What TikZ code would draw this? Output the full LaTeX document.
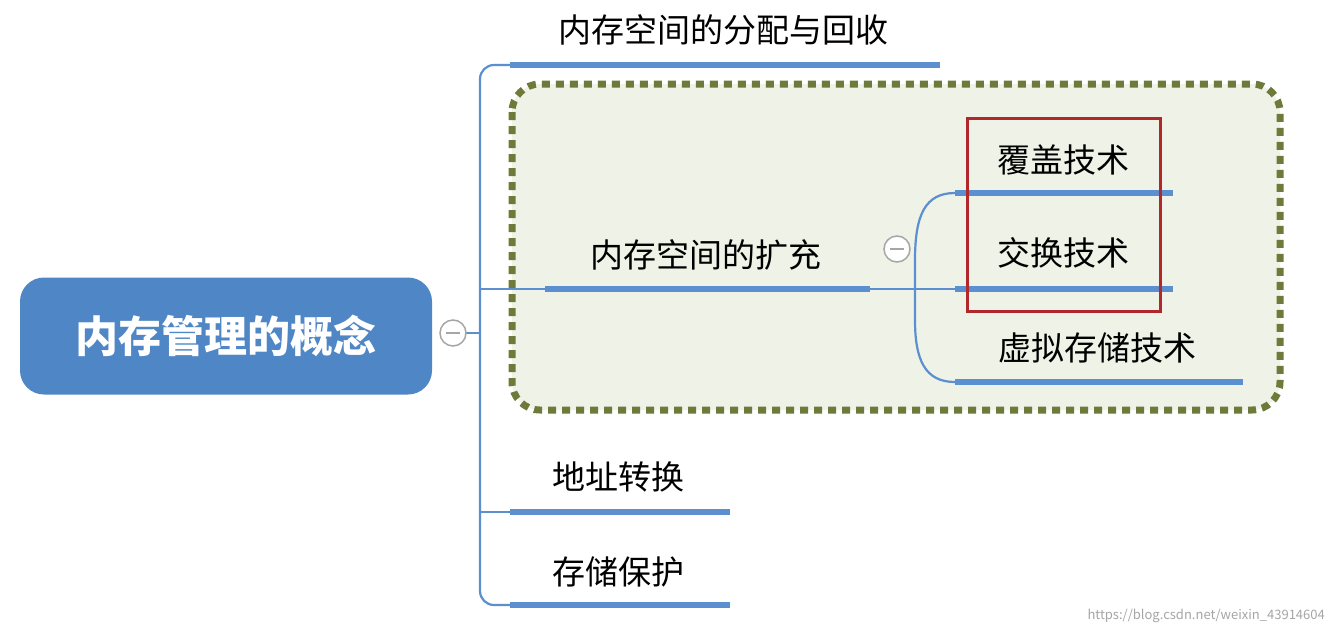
\documentclass[tikz,border=0pt]{standalone}
\usepackage{fontspec}
\setmainfont{Noto Sans CJK SC}
\definecolor{mblue}{HTML}{4F86C6}
\definecolor{lblue}{HTML}{5B8FD0}
\definecolor{olive}{HTML}{6E7A3A}
\definecolor{lgreen}{HTML}{EFF2E6}
\definecolor{dred}{HTML}{B0282C}
\begin{document}
\begin{tikzpicture}[x=1pt,y=-1pt,
  ul/.style={draw=lblue,line width=6pt},
  br/.style={draw=lblue,line width=2.2pt,rounded corners=14pt},
  lab/.style={font=\fontsize{33}{33}\selectfont,text=black,inner sep=0pt},
  col/.style={circle,draw=gray!70,line width=1.5pt,fill=white,minimum size=26pt,inner sep=0pt}]
\useasboundingbox (0,0) rectangle (1332,635);
\fill[white] (0,0) rectangle (1332,635);
% green region
\draw[olive,fill=lgreen,line width=7pt,dash pattern=on 8pt off 6pt,rounded corners=28pt] (512,84) rectangle (1280,410);
% root
\node[draw=none,fill=mblue,rounded corners=24pt,minimum width=412pt,minimum height=117pt,text=white,font=\bfseries\fontsize{43}{43}\selectfont] (root) at (226,336) {内存管理的概念};
% brackets level 1
\coordinate (c1) at (466,333);
\draw[br] (510,65) -- (480,65) -- (480,605) -- (510,605);
\draw[br] (480,289) -- (545,289);
\draw[br] (480,512) -- (510,512);
\draw[lblue,line width=2.2pt] (c1) -- (480,333);
\node[col] (m1) at (453,333) {};
\draw[gray!70,line width=1.8pt] (446,333) -- (460,333);
% level 1 underlines
\draw[ul] (510,65) coordinate (a1) -- (940,65) coordinate (a2);
\draw[ul] (545,289) coordinate (b1) -- (870,289) coordinate (b2);
\draw[ul] (510,512) coordinate (d1) -- (730,512) coordinate (d2);
\draw[ul] (510,605) coordinate (e1) -- (730,605) coordinate (e2);
\node[lab] (t1) at (723,30) {内存空间的分配与回收};
\node[lab] (t2) at (706,255) {内存空间的扩充};
\node[lab] (t3) at (618,477) {地址转换};
\node[lab] (t4) at (618,572) {存储保护};
% level 2
\draw[lblue,line width=2.2pt] (870,289) -- (955,289);
\draw[lblue,line width=2.2pt] (955,193) .. controls (925,193) and (915,215) .. (915,260) -- (915,320) .. controls (915,360) and (925,382) .. (955,382);
\node[col] (m2) at (897,249) {};
\draw[gray!70,line width=1.8pt] (890,249) -- (904,249);
\draw[ul] (955,193) coordinate (f1) -- (1173,193) coordinate (f2);
\draw[ul] (955,289) coordinate (g1) -- (1173,289) coordinate (g2);
\draw[ul] (955,382) coordinate (h1) -- (1243,382) coordinate (h2);
\node[lab] (t5) at (1063,160) {覆盖技术};
\node[lab] (t6) at (1063,253) {交换技术};
\node[lab] (t7) at (1097,348) {虚拟存储技术};
% red box
\draw[dred,line width=3pt] (967,118) rectangle (1160,311);
% watermark
\node[text=gray!70,font=\fontsize{13}{13}\selectfont,anchor=east,inner sep=0pt] (wm) at (1325,616) {https://blog.csdn.net/weixin\_43914604};
\end{tikzpicture}
\end{document}
